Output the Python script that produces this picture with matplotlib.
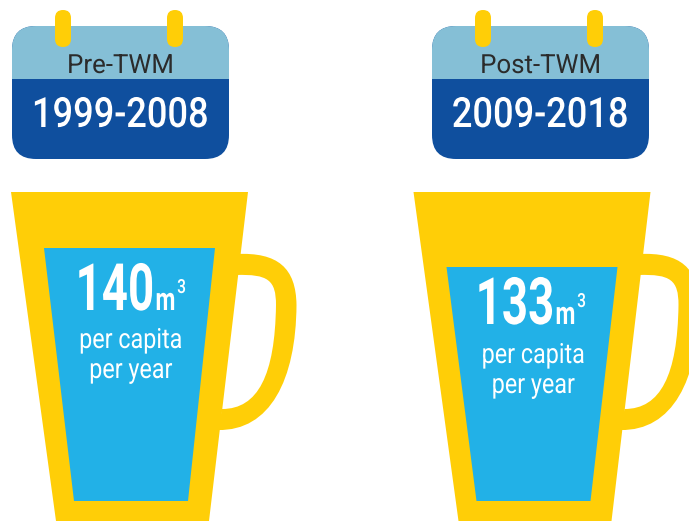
import matplotlib
matplotlib.use("Agg")
import matplotlib.pyplot as plt
from matplotlib.patches import FancyBboxPatch, Polygon, PathPatch, Rectangle
from matplotlib.path import Path
from matplotlib.patheffects import AbstractPathEffect
from matplotlib.text import Text
from matplotlib.transforms import Affine2D, Bbox

periods = ["1999-2008", "2009-2018"]
phases = ["Pre-TWM", "Post-TWM"]
values = [140, 133]
unit_power = "m"
unit_exp = "3"
unit_line1 = "per capita"
unit_line2 = "per year"

YELLOW = "#FFCE07"
BLUE = "#22B1E7"
LIGHT = "#85BFD6"
DARK = "#0F4F9E"
INK = "#2B2B2B"
FONT = ["Roboto", "DejaVu Sans"]

fig = plt.figure(figsize=(6.89, 5.21), dpi=100)
ax = fig.add_axes([0, 0, 1, 1])
ax.set_xlim(0, 689)
ax.set_ylim(521, 0)
ax.axis("off")


class Squeeze(AbstractPathEffect):
    """Narrow a text horizontally around its left, centre or right edge."""

    def __init__(self, sx, anchor="center"):
        super().__init__()
        self.sx, self.anchor = sx, anchor

    def draw_path(self, renderer, gc, tpath, affine, rgbFace=None):
        e = tpath.get_extents(affine)
        x0 = {"left": e.x0, "right": e.x1, "center": (e.x0 + e.x1) / 2}[self.anchor]
        squeezed = affine + Affine2D().translate(-x0, 0).scale(self.sx, 1).translate(x0, 0)
        renderer.draw_path(gc, tpath, squeezed, rgbFace)


class NarrowText(Text):
    """Real text drawn narrowed, and reporting the extent it really covers."""

    def __init__(self, *args, sx=1.0, **kwargs):
        super().__init__(*args, **kwargs)
        self.sx = sx
        self.set_path_effects([Squeeze(sx, self.get_ha())])

    def get_window_extent(self, renderer=None, dpi=None):
        b = super().get_window_extent(renderer, dpi)
        x0 = {"left": b.x0, "right": b.x1, "center": (b.x0 + b.x1) / 2}[self.get_ha()]
        return Bbox([[x0 + (b.x0 - x0) * self.sx, b.y0], [x0 + (b.x1 - x0) * self.sx, b.y1]])


def label(x, y, s, size, sx, ha="center", weight="normal", color="white"):
    t = NarrowText(x, y, s, sx=sx, ha=ha, va="baseline", family=FONT, fontsize=size,
                   fontweight=weight, color=color, zorder=6)
    ax.add_artist(t)


def level_y(v):
    # water surface height scaled from the values
    return 248 + (140 - v) * 19 / 7


def calendar(dx, phase, period):
    shape = dict(boxstyle="round,pad=0,rounding_size=24", linewidth=0)
    base = FancyBboxPatch((12 + dx, 26), 217, 133, facecolor=DARK, zorder=2, **shape)
    ax.add_patch(base)
    top = Rectangle((12 + dx, 26), 217, 53, facecolor=LIGHT, linewidth=0, zorder=3)
    ax.add_patch(top)
    top.set_clip_path(base)
    for rx in (55, 167):
        ax.add_patch(FancyBboxPatch((rx + dx, 10), 16, 37, facecolor=YELLOW, linewidth=0, zorder=4,
                                    boxstyle="round,pad=0,rounding_size=8"))
    label(120.5 + dx, 73, phase, 19, 0.98, color=INK)
    label(120 + dx, 127, period, 30, 0.87, weight="medium")


def mug(dx, value, num_x, num_y, text_y):
    handle = Path(
        [(236, 254), (278, 252), (296, 268), (296.5, 305),
         (296, 380), (270, 431), (218, 430),
         (222, 409), (258, 409), (275, 375), (276, 305),
         (276, 280), (268, 274), (236, 275), (236, 254)],
        [Path.MOVETO, Path.CURVE4, Path.CURVE4, Path.CURVE4,
         Path.CURVE4, Path.CURVE4, Path.CURVE4,
         Path.LINETO, Path.CURVE4, Path.CURVE4, Path.CURVE4,
         Path.CURVE4, Path.CURVE4, Path.CURVE4, Path.CLOSEPOLY],
    )
    ax.add_patch(PathPatch(handle.transformed(Affine2D().translate(dx, 0)), facecolor=YELLOW,
                           linewidth=0, zorder=1))
    ax.add_patch(Polygon([(11 + dx, 192), (248 + dx, 192), (209 + dx, 521), (56 + dx, 521)],
                         facecolor=YELLOW, linewidth=0, zorder=2))
    y = level_y(value)
    ax.add_patch(Polygon([(44 + dx, y), (215 + dx, y), (188 + dx, 501), (74 + dx, 501)],
                         facecolor=BLUE, linewidth=0, zorder=3))
    label(num_x + 2, num_y, str(value), 47, 0.7, ha="right", weight="bold")
    label(num_x + 2, num_y, unit_power, 23, 0.72, ha="left", weight="bold")
    label(num_x + 24, num_y - 17, unit_exp, 14, 0.8, ha="left", weight="medium")
    label(130.5 + dx, text_y, unit_line1, 20, 0.84)
    label(130.5 + dx, text_y + 30, unit_line2, 20, 0.84)


for dx_c, dx_m, phase, period, value, nx, ny, ty in zip(
        (0, 420), (0, 402.5), phases, periods, values, (153, 553), (310, 324), (348, 363)):
    calendar(dx_c, phase, period)
    mug(dx_m, value, nx, ny, ty)

fig.savefig("out.png", dpi=100, facecolor="white")
